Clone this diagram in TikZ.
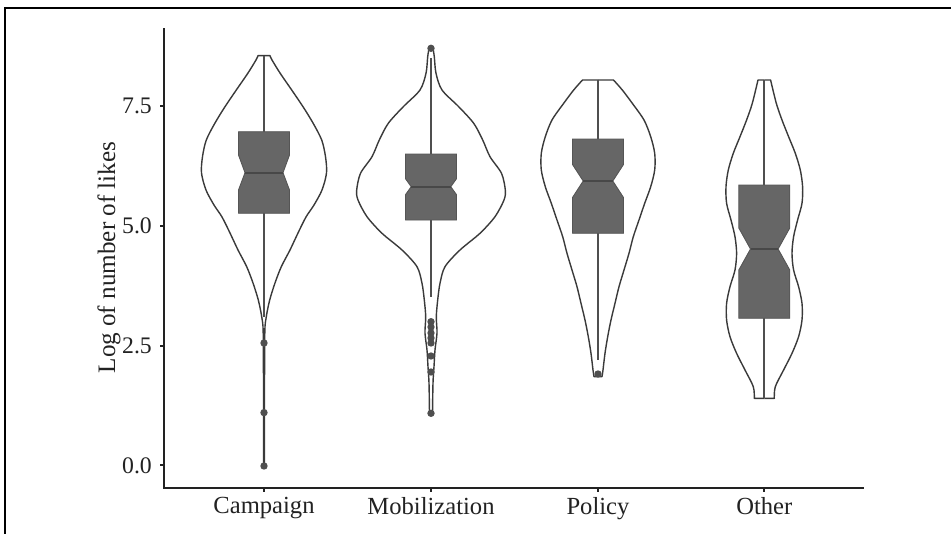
\documentclass[tikz,border=0pt]{standalone}
\usepackage{fontspec}
\setmainfont{Liberation Serif}
\definecolor{boxgray}{HTML}{666666}
\definecolor{boxedge}{HTML}{555555}
\definecolor{medgray}{HTML}{484848}
\definecolor{vgray}{HTML}{3A3A3A}
\definecolor{wgray}{HTML}{4F4F4F}
\definecolor{txtgray}{HTML}{222222}
\tikzset{
  violin/.style={draw=vgray, line width=0.8pt, line join=round},
  whisk/.style={draw=wgray, line width=1.1pt},
  notchbox/.style={fill=boxgray, draw=boxedge, line width=0.5pt},
  medianline/.style={draw=medgray, line width=1.3pt},
  outlier/.style={fill=wgray},
  axisline/.style={draw=txtgray, line width=1.1pt},
  ticklab/.style={anchor=east, text=txtgray, font=\fontsize{13.5}{15}\selectfont},
  catlab/.style={anchor=north, text=txtgray, font=\fontsize{14}{16}\selectfont},
}
% right half of a violin, mirrored about its centre
\newcommand{\violinpath}[2]{%
  \foreach \sd in {1,-1}
    \draw[violin,shift={(#1,0)},xscale=\sd] #2;}
% centre, top, notch start, median, notch end, bottom, notch depth
\newcommand{\notchbox}[7]{%
  \begin{scope}[shift={(#1,0)}]
    \filldraw[notchbox] (-25.5,#2) -- (25.5,#2) -- (25.5,#3) -- ({25.5-#7},#4) -- (25.5,#5)
      -- (25.5,#6) -- (-25.5,#6) -- (-25.5,#5) -- ({-25.5+#7},#4) -- (-25.5,#3) -- cycle;
    \draw[medianline] ({-25.5+#7},#4) -- ({25.5-#7},#4);
  \end{scope}}

\begin{document}
\begin{tikzpicture}[x=0.02cm,y=-0.02cm]
  \useasboundingbox (0,0) rectangle (951,534);
  %FRAME
  \draw[line width=1.3pt] (5,534) -- (5,8) -- (951,8);
  %VIOLINS
  \violinpath{264}{(0,55.7) -- plot[smooth] coordinates {(6,55.7) (8,60) (16,73) (27.7,90) (39,106.7)
    (49,123) (57.7,140) (61.5,156.7) (62.5,173) (58,190) (50,205) (42,217) (34,233) (26,250)
    (17.3,266.7) (11,283) (5.7,300) (2.3,316.7) (0.8,333) (0.5,400) (0.5,466)} -- (0,466)}
  \violinpath{431}{(0,48.3) -- plot[smooth] coordinates {(2,48.3) (3.3,56.7) (5,73.3) (11,90) (27.7,106.7)
    (42.7,123.3) (51.7,140) (59,156.7) (70.5,173.3) (74.3,190) (73,200) (64,216.7) (49,233.3)
    (29,250) (14,266.7) (9,283.3) (6.7,300) (5.3,316.7) (6,333) (4,350) (3,366.7) (2,383)
    (1.5,413.3)} -- (0,413.3)}
  \violinpath{598}{(0,80) -- plot[smooth] coordinates {(15.5,80) (24.3,90) (34.3,103.3) (46,120)
    (52.7,136.7) (56.7,153.3) (56.7,170) (52.7,186.7) (46.7,203.3) (41,220) (35.3,236.7) (31,253.3)
    (26,270) (21,286.7) (17,303.3) (13,320) (9.7,336.7) (7,353.3) (5,370) (4,376.7)} -- (0,376.7)}
  \violinpath{764.3}{(0,80) -- plot[smooth] coordinates {(6.3,80) (12,103.3) (17.7,120) (24.3,136.7)
    (31,153.3) (36,170) (38.3,186.7) (37.7,203.3) (33.3,220) (29.3,236.7) (27.7,253.3) (29.3,270)
    (34.3,286.7) (37.7,303.3) (37.7,320) (34.3,336.7) (27.7,353.3) (19.3,370) (11,386.7)
    (10,398.3)} -- (0,398.3)}
  %WHISKERS
  \foreach \c/\wt/\bt/\bb/\wb in {264/55.7/131.7/213.3/317, 431/58/154/220/296.7,
      598/80/139/233.3/360, 764.3/80/185/318.3/398.3}{
    \draw[whisk] (\c,\wt) -- (\c,\bt);
    \draw[whisk] (\c,\bb) -- (\c,\wb);
  }
  %BOXES
  \notchbox{264}{131.7}{155}{172.7}{190}{213.3}{6.5}
  \notchbox{431}{154}{178.7}{186.7}{194.7}{220}{5.7}
  \notchbox{598}{139}{164.5}{181}{197.5}{233.3}{10.7}
  \notchbox{764.3}{185}{228}{249}{270}{318.3}{11.7}
  %OUTLIERS
  \foreach \y in {343,412.6,466} \fill[outlier] (264,\y) circle[radius=2.1pt];
  \foreach \y in {48.3,321.7,327,333,338,343,356,372,413.3} \fill[outlier] (431,\y) circle[radius=2.1pt];
  \fill[outlier] (598,374) circle[radius=2.1pt];
  %AXES
  \draw[axisline] (164,28) -- (164,488) -- (864,488);
  \foreach \v/\lab [count=\i] in {0/0.0, 2.5/2.5, 5/5.0, 7.5/7.5}{
    \draw[axisline] (160,{465.3-47.9*\v}) -- (164,{465.3-47.9*\v});
    \node[ticklab] (ytick\i) at (158,{465.3-47.9*\v}) {\lab};
  }
  \foreach \c/\lab [count=\i] in {264/Campaign, 431/Mobilization, 598/Policy, 764.3/Other}{
    \draw[axisline] (\c,488) -- (\c,492);
    \node[catlab] (cat\i) at (\c,491) {\lab};
  }
  \node[rotate=90, text=txtgray, font=\fontsize{14.3}{16}\selectfont] (ytitle) at (109,257.5) {Log of number of likes};
\end{tikzpicture}
\end{document}
